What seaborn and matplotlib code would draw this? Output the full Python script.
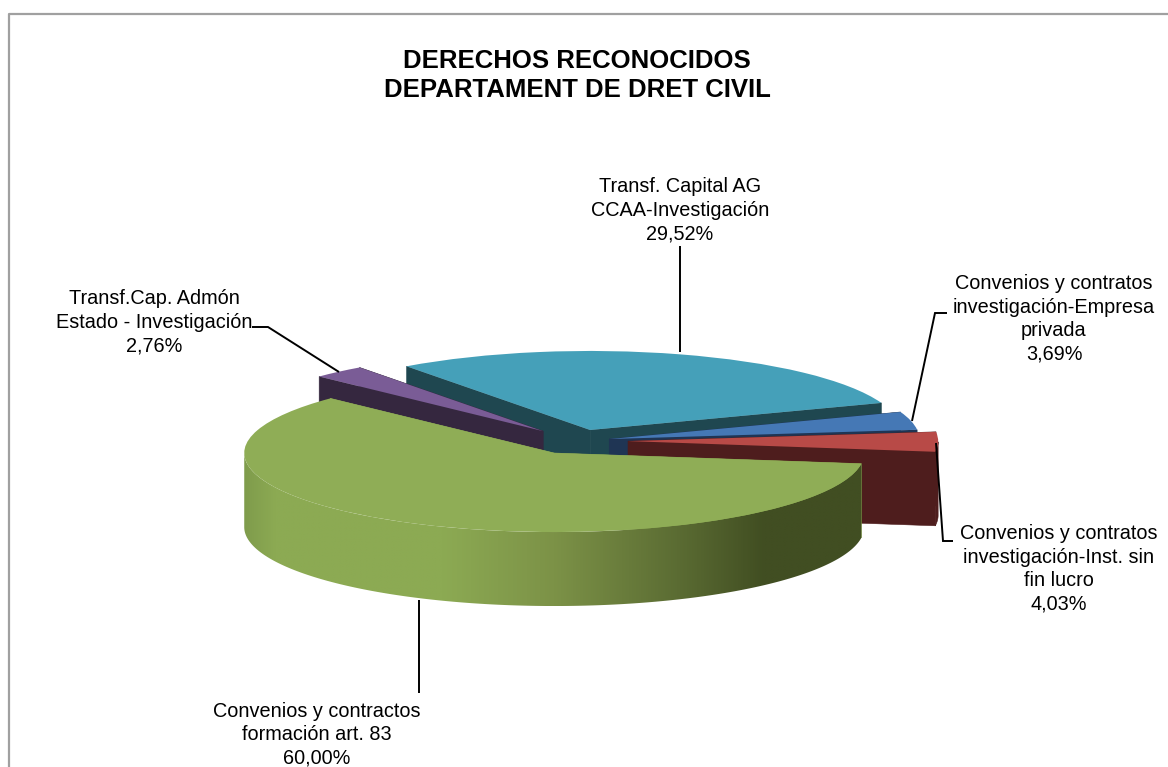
import numpy as np
import matplotlib
matplotlib.use("Agg")
import matplotlib.pyplot as plt
from matplotlib.colors import LinearSegmentedColormap
from matplotlib.patches import Polygon
import seaborn as sns

# ---- data ----
categories = ["Transf. Capital AG\nCCAA-Investigación",
              "Convenios y contratos\ninvestigación-Empresa\nprivada",
              "Convenios y contratos\ninvestigación-Inst. sin\nfin lucro",
              "Convenios y contractos\nformación art. 83",
              "Transf.Cap. Admón\nEstado - Investigación"]
values = [29.52, 3.69, 4.03, 60.00, 2.76]
title = "DERECHOS RECONOCIDOS\nDEPARTAMENT DE DRET CIVIL"

# ---- style ----
explode = [0.146, 0.107, 0.165, 0.169, 0.166]
top_colors = ["#45A0B9", "#4578B5", "#B84A47", "#8FAD56", "#7A5C96"]
side_colors = ["#1F4750", "#1F3554", "#4E1D1D", "#8FAD56", "#35273F"]
paint_order = [0, 4, 1, 2, 3]
label_x = [680, 1054, 1059, 317, 154]
label_y = [210, 319, 569, 735, 322]
leaders = [[(680, 246), (680, 352)],
           [(947, 313), (935, 313), (912, 421)],
           [(953, 541), (943, 541), (936, 443)],
           [(419, 693), (419, 600)],
           [(252, 327), (268, 327), (339, 372)]]
W, H = 1168, 767
CX, CY = 577, 441
SX, SY = 310.0, 79.0
DEPTH = 74.0 / SY
FS = 14.3

sns.set_theme(style="white")
plt.rcParams["font.family"] = ["Liberation Sans", "DejaVu Sans"]

fig = plt.figure(figsize=(W / 100, H / 100), dpi=100, facecolor="white")
ax = fig.add_axes([0, 0, 1, 1])
wedges, _ = ax.pie(values, explode=explode, colors=top_colors, startangle=126.3,
                   counterclock=False, radius=1.0, wedgeprops=dict(linewidth=0))

wall_cmap = LinearSegmentedColormap.from_list(
    "wall", [(0.0, "#7F9C4C"), (0.05, "#8CAA53"), (0.32, "#8CAA53"), (0.50, "#7C9247"),
             (0.70, "#5B6C33"), (0.84, "#414E22"), (1.0, "#414E22")])


def pt(w, deg, drop=0.0):
    a = np.radians(deg)
    return (w.center[0] + np.cos(a), w.center[1] + np.sin(a) - drop)


for rank, i in enumerate(paint_order):
    w = wedges[i]
    z = 10 + rank * 3
    t1, t2 = w.theta1, w.theta2
    for deg in (t1, t2):
        p, c = pt(w, deg), w.center
        ax.fill([c[0], p[0], p[0], c[0]], [c[1], p[1], p[1] - DEPTH, c[1] - DEPTH],
                color=side_colors[i], lw=0.4, zorder=z)
    # outer wall: only the part whose rim faces the viewer
    angs = np.linspace(t1, t2, max(int((t2 - t1) * 2), 4))
    angs = angs[np.sin(np.radians(angs)) <= 0]
    if len(angs) > 1:
        upper = [pt(w, a) for a in angs]
        lower = [pt(w, a, DEPTH) for a in angs[::-1]]
        poly = upper + lower
        if i == 3:
            patch = Polygon(poly, closed=True, transform=ax.transData, fc="none", ec="none")
            ax.add_patch(patch)
            img = ax.imshow(np.linspace(0, 1, 512).reshape(1, -1), cmap=wall_cmap, aspect="auto",
                            extent=(w.center[0] - 1, w.center[0] + 1,
                                    w.center[1] - 1 - DEPTH, w.center[1] + 1),
                            interpolation="bilinear", zorder=z + 1)
            img.set_clip_path(patch)
        else:
            ax.add_patch(Polygon(poly, closed=True, fc=side_colors[i], ec=side_colors[i],
                                 lw=0.4, zorder=z + 1))
    w.set_zorder(z + 2)

ax.set_aspect("auto")
ax.set_xlim(-CX / SX, (W - CX) / SX)
ax.set_ylim(-(H - CY) / SY, CY / SY)
ax.axis("off")

ov = fig.add_axes([0, 0, 1, 1], facecolor="none")
ov.set_xlim(0, W)
ov.set_ylim(H, 0)
ov.axis("off")
ov.plot([9, 9, W + 5], [H + 5, 13.5, 13.5], color="#A0A0A0", lw=1.6)
for pts in leaders:
    xs, ys = zip(*pts)
    ov.plot(xs, ys, color="black", lw=1.4, solid_capstyle="butt", solid_joinstyle="miter")
for cat, v, x, y in zip(categories, values, label_x, label_y):
    ov.text(x, y, cat + "\n" + f"{v:.2f}".replace(".", ",") + "%",
            ha="center", va="center", fontsize=FS, linespacing=1.3, color="black")
ov.text(577, 75.5, title, ha="center", va="center", fontsize=18.5, fontweight="bold",
        linespacing=1.25, color="black")

fig.savefig("out.png", dpi=100)
